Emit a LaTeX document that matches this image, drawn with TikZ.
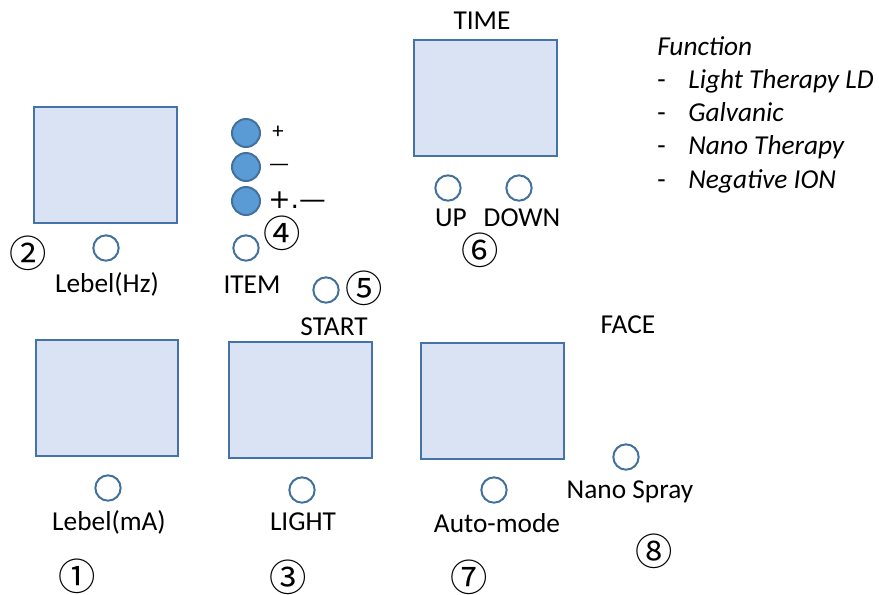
\documentclass[tikz,border=0pt]{standalone}
\usepackage{fontspec}
\setmainfont{Carlito}
\newfontfamily\symfont{DejaVu Sans}
\newfontfamily\cjk{Noto Sans CJK JP}
\definecolor{panelfill}{RGB}{218,227,243}
\definecolor{paneledge}{RGB}{70,114,170}
\definecolor{ledfill}{RGB}{91,155,213}
\definecolor{ledline}{RGB}{65,113,156}

\begin{document}
\begin{tikzpicture}[x=0.75pt,y=-0.75pt,
	panel/.style={draw=paneledge,fill=panelfill,line width=1.5pt,minimum width=107pt,minimum height=87pt,inner sep=0pt},
	knob/.style={circle,draw=ledline,line width=1.5pt,minimum size=19pt,inner sep=0pt},
	led/.style={circle,draw=ledline,fill=ledfill,line width=1.5pt,minimum size=21pt,inner sep=0pt},
	lbl/.style={font=\fontsize{20.5}{24}\selectfont,inner sep=0pt},
	num/.style={font=\cjk\fontsize{28}{32}\selectfont,inner sep=0pt}]
	\useasboundingbox (0,0) rectangle (879,594);

	% panels
	\node[panel] (hz) at (105.5,165) {};
	\node[panel] (time) at (485.5,98) {};
	\node[panel] (ma) at (107,398) {};
	\node[panel] (light) at (300.5,400) {};
	\node[panel] (auto) at (492.5,400.5) {};

	% knobs
	\node[knob] (hzknob) at (106,248) {};
	\node[knob] (itemknob) at (246,248) {};
	\node[knob] (startknob) at (326,290) {};
	\node[knob] (upknob) at (448,188) {};
	\node[knob] (downknob) at (519,188) {};
	\node[knob] (maknob) at (108,488) {};
	\node[knob] (lightknob) at (302,490) {};
	\node[knob] (autoknob) at (494,490) {};
	\node[knob] (sprayknob) at (626,457) {};

	% item leds
	\foreach \y [count=\i] in {133,167,201} {
		\node[led] (led\i) at (246,\y) {};
	};
	\node[lbl,font=\fontsize{17}{20}\selectfont] (plus) at (278,132) {+};
	\node[lbl,font=\symfont\fontsize{15}{18}\selectfont] (minus) at (279,167) {—};
	\node[lbl,font=\symfont\fontsize{20}{24}\selectfont] (both) at (297,200) {+.—};

	% labels
	\node[lbl] (timetxt) at (482,21) {TIME};
	\node[lbl] (uptxt) at (451,218) {UP};
	\node[lbl] (downtxt) at (522,218) {DOWN};
	\node[lbl] (hztxt) at (107,284) {Lebel(Hz)};
	\node[lbl] (itemtxt) at (252,285) {ITEM};
	\node[lbl] (starttxt) at (334,327) {START};
	\node[lbl] (facetxt) at (628,325) {FACE};
	\node[lbl] (matxt) at (109,522) {Lebel(mA)};
	\node[lbl] (lighttxt) at (303,522) {LIGHT};
	\node[lbl] (autotxt) at (497,523) {Auto-mode};
	\node[lbl] (spraytxt) at (630,492) {Nano Spray};

	% numbers
	\node[num] (n1) at (77,576) {①};
	\node[num] (n2) at (28,253) {②};
	\node[num] (n3) at (288,577) {③};
	\node[num] (n4) at (282,233) {④};
	\node[num] (n5) at (364,288) {⑤};
	\node[num] (n6) at (480,250) {⑥};
	\node[num] (n7) at (469,577) {⑦};
	\node[num] (n8) at (654,551) {⑧};

	% function list
	\node[lbl,anchor=base west,font=\itshape\fontsize{20.5}{24}\selectfont] (fn) at (657,55) {Function};
	\foreach \t/\y [count=\i] in {Light Therapy LD/88,Galvanic/121,Nano Therapy/154,Negative ION/188} {
		\node[lbl,anchor=base west] (dash\i) at (657,\y) {-};
		\node[lbl,anchor=base west,font=\itshape\fontsize{20.5}{24}\selectfont] (fn\i) at (688,\y) {\t};
	};
\end{tikzpicture}
\end{document}
